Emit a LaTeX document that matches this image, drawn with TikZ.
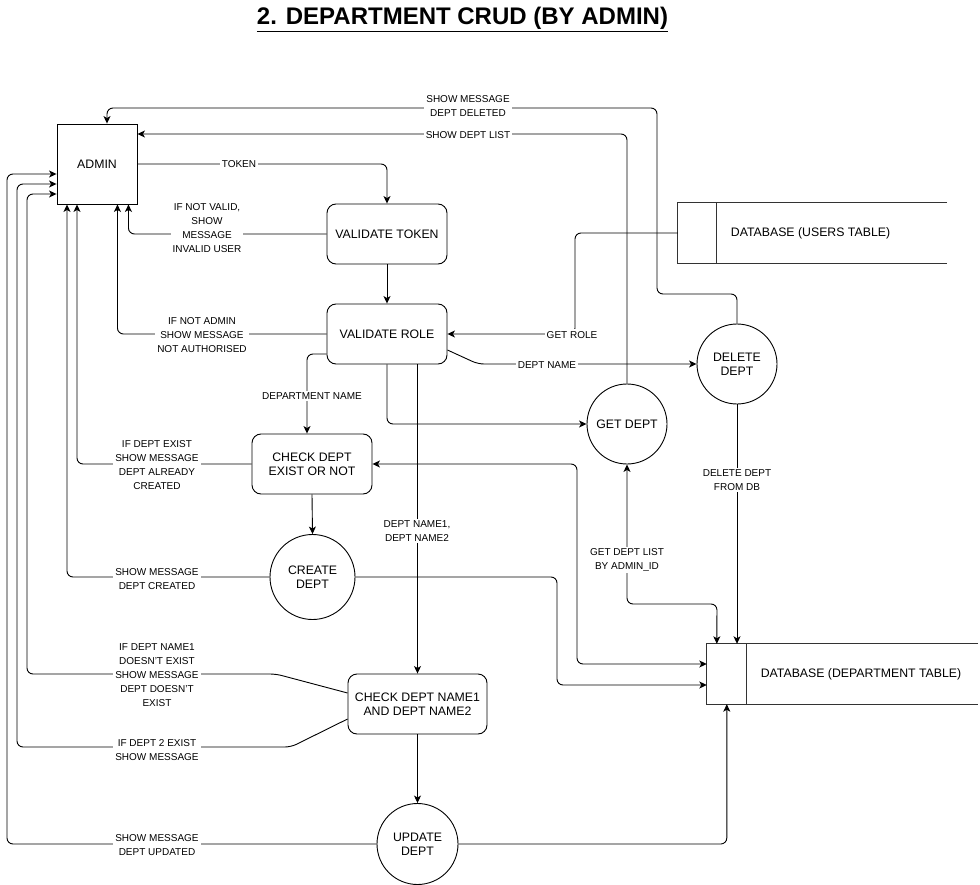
\documentclass[tikz,border=0pt]{standalone}
\usepackage{fontspec}
\setmainfont{Liberation Sans}
\usetikzlibrary{arrows.meta,calc}
\begin{document}
\begin{tikzpicture}[x=1pt,y=-1pt]
\tikzset{
 lw/.style={line width=0.9pt},
 tip/.tip={Stealth[length=7.5pt,width=7pt,inset=2pt]},
 arr/.style={lw, -tip, rounded corners=6pt},
 arrboth/.style={lw, tip-tip, rounded corners=6pt},
 box/.style={draw, lw, minimum width=80pt, minimum height=80pt, inner sep=0pt, font=\fontsize{12.3}{14}\selectfont},
 rbox/.style={draw, lw, rounded corners=9pt, minimum width=120pt, minimum height=60pt, inner sep=0pt, align=center, font=\fontsize{12.3}{14}\selectfont},
 proc/.style={draw, lw, circle, minimum size=80pt, inner sep=0pt, align=center, font=\fontsize{12.3}{14}\selectfont},
 store/.style={minimum height=60pt, inner sep=0pt},
 dbline/.style={line width=1pt, black!80},
 dbtext/.style={font=\fontsize{12.3}{14}\selectfont},
 lbl/.style={fill=white, inner sep=2pt, align=center, font=\fontsize{10}{14}\selectfont},
}
\useasboundingbox (0,0) rectangle (980,885);

% title
\node[anchor=base, font=\bfseries\fontsize{24}{28}\selectfont] (title) at (462.5,25) {\underline{2. DEPARTMENT CRUD (BY ADMIN)}};

% nodes
\node[box] (admin) at (97,164) {ADMIN};
\node[rbox] (vt) at (387,234) {VALIDATE TOKEN};
\node[rbox] (vr) at (387,334) {VALIDATE ROLE};
\node[rbox] (chk) at (312,464) {CHECK DEPT\\EXIST OR NOT};
\node[rbox, minimum width=139pt] (chk2) at (417.5,704) {CHECK DEPT NAME1\\AND DEPT NAME2};
\node[proc, minimum size=85pt] (create) at (312.5,577) {CREATE\\DEPT};
\node[proc] (getd) at (627,424) {GET DEPT};
\node[proc] (deld) at (737,364) {DELETE\\DEPT};
\node[proc, minimum size=81pt] (upd) at (417.5,844) {UPDATE\\DEPT};

% data stores
\node[store, minimum width=269pt] (dbu) at (812.5,233) {};
\draw[dbline] (dbu.north east) -- (dbu.north west) -- (dbu.south west) -- (dbu.south east);
\draw[dbline] ([xshift=39pt]dbu.north west) -- ([xshift=39pt]dbu.south west);
\node[dbtext] (dbutext) at (810.5,233) {DATABASE (USERS TABLE)};

\node[store, minimum width=271pt] (dbd) at (842.5,674) {};
\draw[dbline] (dbd.north east) -- (dbd.north west) -- (dbd.south west) -- (dbd.south east);
\draw[dbline] ([xshift=40pt]dbd.north west) -- ([xshift=40pt]dbd.south west);
\node[dbtext] (dbdtext) at (861,674) {DATABASE (DEPARTMENT TABLE)};

% connectors
\draw[arr] (admin.east) -| (vt.north);
\draw[arr] (vt.south) -- (vr.north);
\draw[arr] (vt.west) -| ([xshift=-9pt]admin.south east);
\draw[arr] (vr.west) -| ([xshift=-20pt]admin.south east);
\draw[arr] (dbu.west) -| (575,334) -- (vr.east);
\draw[arr] ([yshift=-16pt]vr.east) -- (478,364) -- (deld.west);
\draw[arr] (vr.south) |- (getd.west);
\draw[arr] ([yshift=-20pt]vr.west) -| ([xshift=-5pt]chk.north);
\draw[arr] (vr.south -| chk2.north) -- (chk2.north);
\draw[arr] (chk.west) -| ([xshift=-20pt]admin.south);
\draw[arr] (chk.south) -- (create.north);
\draw[arr] (create.west) -| ([xshift=-30pt]admin.south);
\draw[arr] (create.east) -| (557,685) -- ([yshift=-11pt]dbd.west);
\draw[arrboth] ([yshift=10pt]dbd.west) -| (577,464) -- (chk.east);
\draw[arr] (getd.north) |- ([yshift=30pt]admin.east);
\draw[arr] (deld.north) |- (657,294) -- (657,108) -| ([xshift=10pt]admin.north);
\draw[arr] (deld.south) -- (deld.south |- dbd.north);
\draw[arrboth] (getd.south) |- (717,604) -- ([xshift=10pt]dbd.north west);
\draw[arr] ([yshift=11pt]chk2.west) -- (276,674) -| (27,194) -- ([yshift=-30pt]admin.west);
\draw[arr] ([yshift=-15pt]chk2.west) -- (291,747) -| (17,184) -- ([yshift=-20pt]admin.west);
\draw[arr] (chk2.south) -- (upd.north);
\draw[arr] (upd.west) -| (7,174) -- ([yshift=-10pt]admin.west);
\draw[arr] (upd.east) -| ([xshift=20pt]dbd.south west);

% labels
\node[lbl] (l1) at (239,164) {TOKEN};
\node[lbl] (l2) at (207,228.5) {IF NOT VALID,\\SHOW\\MESSAGE\\INVALID USER};
\node[lbl] (l3) at (202,335) {IF NOT ADMIN\\SHOW MESSAGE\\NOT AUTHORISED};
\node[lbl] (l4) at (468,106) {SHOW MESSAGE\\DEPT DELETED};
\node[lbl] (l5) at (468,135) {SHOW DEPT LIST};
\node[lbl] (l6) at (572,335) {GET ROLE};
\node[lbl] (l7) at (547,365) {DEPT NAME};
\node[lbl] (l8) at (312,396) {DEPARTMENT NAME};
\node[lbl] (l9) at (157,465) {IF DEPT EXIST\\SHOW MESSAGE\\DEPT ALREADY\\CREATED};
\node[lbl] (l10) at (417,531) {DEPT NAME1,\\DEPT NAME2};
\node[lbl] (l11) at (157,579) {SHOW MESSAGE\\DEPT CREATED};
\node[lbl] (l12) at (737,480) {DELETE DEPT\\FROM DB};
\node[lbl] (l13) at (627,560) {GET DEPT LIST\\BY ADMIN\_ID};
\node[lbl] (l14) at (157,675) {IF DEPT NAME1\\DOESN'T EXIST\\SHOW MESSAGE\\DEPT DOESN'T\\EXIST};
\node[lbl] (l15) at (157,750) {IF DEPT 2 EXIST\\SHOW MESSAGE};
\node[lbl] (l16) at (157,845) {SHOW MESSAGE\\DEPT UPDATED};
\end{tikzpicture}
\end{document}
